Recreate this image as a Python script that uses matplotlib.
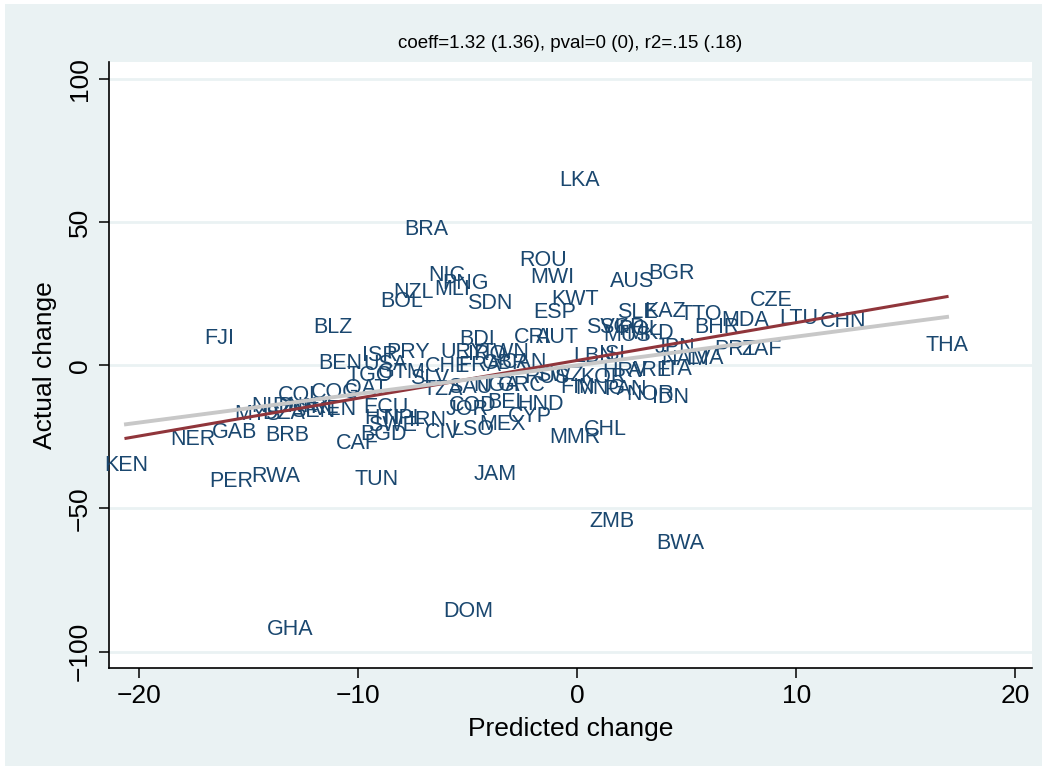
import numpy as np
import matplotlib.pyplot as plt
from matplotlib.patches import Rectangle

plt.rcParams['font.family'] = ['Liberation Sans', 'DejaVu Sans']

# country code, predicted change, actual change
codes = ['LKA', 'BRA', 'ROU', 'NIC', 'PNG', 'MLI', 'NZL', 'BOL', 'SDN', 'MWI',
         'KWT', 'ESP', 'AUS', 'BGR', 'CZE', 'LTU', 'CHN', 'THA', 'FJI', 'BLZ',
         'BDI', 'CRI', 'AUT', 'PRY', 'ISR', 'BEN', 'USA', 'TGO', 'GTM', 'SLV',
         'URY', 'TWN', 'IRQ', 'CHE', 'FRA', 'GBR', 'CAN', 'TZA', 'SAU', 'NGA',
         'GRC', 'COL', 'COG', 'QAT', 'NLD', 'DNK', 'IRL', 'VEN', 'MYS', 'DZA',
         'SEN', 'ECU', 'HTI', 'NPL', 'IRN', 'SWE', 'BGD', 'CIV', 'LSO', 'MEX',
         'CYP', 'JOR', 'COD', 'BEL', 'HND', 'CAF', 'GAB', 'BRB', 'NER', 'KEN',
         'PER', 'RWA', 'TUN', 'JAM', 'ZMB', 'BWA', 'DOM', 'GHA', 'MMR', 'CHL',
         'SWZ', 'KOR', 'FIN', 'MNG', 'PAN', 'NOR', 'IDN', 'RUS', 'SLE', 'KAZ',
         'TTO', 'SVK', 'SGP', 'POL', 'MUS', 'MKD', 'BHR', 'MDA', 'LBN', 'ISL',
         'JPN', 'PRT', 'ZAF', 'NAM', 'LVA', 'HRV', 'ITA', 'ARE']

pred = [0.12, -6.91, -1.57, -5.95, -5.13, -5.72, -7.50, -8.00, -3.99, -1.16,
        -0.10, -1.02, 2.50, 4.28, 8.84, 10.12, 12.13, 16.88, -16.37, -11.16,
        -4.58, -2.07, -0.93, -7.73, -9.01, -10.84, -8.78, -9.47, -8.00, -6.73,
        -5.22, -3.30, -4.13, -5.94, -4.44, -3.30, -2.39, -6.13, -4.90, -3.67,
        -2.53, -12.66, -11.07, -9.65, -13.90, -12.90, -11.66, -11.06, -14.62, -13.43,
        -12.06, -8.74, -8.92, -7.92, -6.82, -8.46, -8.87, -6.13, -4.76, -3.40,
        -2.16, -5.04, -4.76, -3.21, -1.70, -10.06, -15.63, -13.26, -17.55, -20.61,
        -15.81, -13.76, -9.19, -3.76, 1.59, 4.69, -4.99, -13.12, -0.10, 1.26,
        -0.79, 1.17, 0.03, 1.04, 2.18, 3.31, 4.23, -1.39, 2.73, 4.00,
        5.64, 1.36, 2.04, 2.86, 2.27, 3.32, 6.37, 7.65, 0.76, 1.72,
        4.46, 7.20, 8.43, 4.91, 5.82, 2.18, 4.50, 3.32]

actual = [65.4, 48.3, 37.5, 32.2, 29.4, 27.3, 26.3, 23.2, 22.5, 31.5,
          23.9, 19.3, 30.1, 32.9, 23.5, 17.2, 16.2, 7.8, 10.2, 14.1,
          9.9, 10.6, 10.6, 5.3, 4.3, 1.5, 1.2, -2.7, -1.6, -3.7,
          5.3, 5.3, 4.6, 0.5, 0.8, 1.5, 1.9, -7.6, -6.9, -6.2,
          -6.2, -9.7, -8.8, -7.4, -13.5, -13.5, -13.9, -14.6, -16.3, -16.0,
          -15.3, -13.9, -17.7, -17.7, -18.4, -20.1, -23.3, -22.6, -21.6, -19.8,
          -17.0, -14.6, -13.2, -12.1, -12.8, -26.4, -22.6, -23.6, -24.9, -34.1,
          -39.7, -38.0, -39.0, -37.3, -53.7, -61.4, -85.1, -91.4, -24.3, -21.5,
          -2.7, -3.4, -6.9, -7.2, -7.6, -9.3, -10.4, -3.4, 19.3, 19.7,
          18.6, 14.1, 14.1, 13.4, 11.3, 12.0, 14.1, 16.5, 3.9, 4.6,
          7.1, 6.4, 6.4, 2.9, 3.2, -1.3, -0.6, -0.9]

# linear fit shown in red; grey is the 45-degree line
fit_slope = 1.32
fit_intercept = 1.7
title = 'coeff=1.32 (1.36), pval=0 (0), r2=.15 (.18)'

navy = '#1a476f'
bg = '#eaf2f3'

fig = plt.figure(figsize=(10.47, 7.70), dpi=100, facecolor='white')
fig.patches.append(Rectangle((0.005, 0.005), 0.99, 0.99, transform=fig.transFigure,
                             facecolor=bg, edgecolor='none', zorder=-10))
ax = fig.add_axes([0.1038, 0.1329, 0.8819, 0.7866])
ax.set_facecolor('white')

for c, x, y in zip(codes, pred, actual):
    ax.text(x, y, c, color=navy, fontsize=15.5, ha='center', va='center_baseline', zorder=3)

xs = np.array([min(pred), max(pred)])
ax.plot(xs, fit_intercept + fit_slope * xs, color='#90353b', lw=2.2, zorder=4)
ax.plot(xs, xs, color='#c8c8c8', lw=2.8, zorder=5)

ax.set_xlim(-21.4, 20.76)
ax.set_ylim(-105.6, 105.9)
ax.set_xticks([-20, -10, 0, 10, 20])
ax.set_yticks([-100, -50, 0, 50, 100])
ax.yaxis.grid(True, color=bg, lw=2)
ax.set_axisbelow(True)
for s in ['top', 'right']:
    ax.spines[s].set_visible(False)
for s in ['left', 'bottom']:
    ax.spines[s].set_color('#000000')
    ax.spines[s].set_linewidth(1.2)
ax.tick_params(axis='both', direction='out', length=7, width=1.1, labelsize=19, pad=5)
for lbl in ax.get_yticklabels():
    lbl.set_rotation(90)
    lbl.set_va('center')

ax.set_xlabel('Predicted change', fontsize=19, labelpad=6)
ax.set_ylabel('Actual change', fontsize=19, labelpad=8)
ax.set_title(title, fontsize=13.5, pad=10)

fig.savefig('out.png', dpi=100, facecolor='white')
